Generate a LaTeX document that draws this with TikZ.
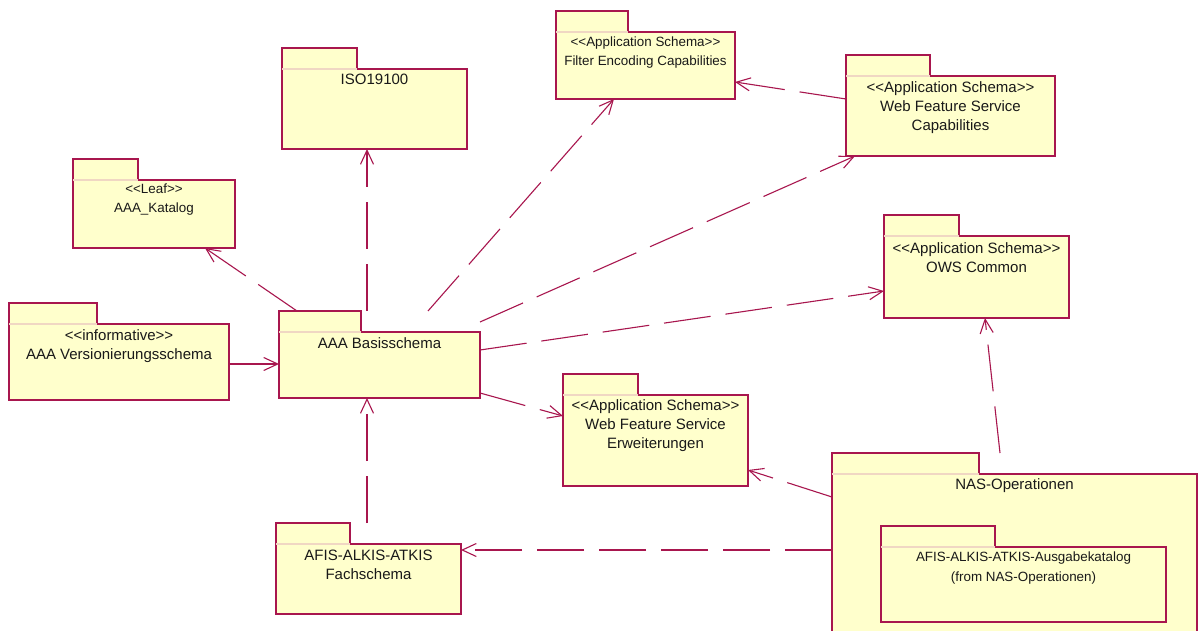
\documentclass[tikz,border=0pt]{standalone}
\usepackage{fontspec}
\setmainfont{Liberation Sans}
\usepackage{tikz}
\usetikzlibrary{calc,arrows.meta}

\definecolor{umlred}{RGB}{168,22,78}
\definecolor{umlfill}{RGB}{255,255,204}
\definecolor{umlseam}{RGB}{240,215,195}
\definecolor{umltext}{RGB}{25,25,25}

\tikzset{
  pkgbody/.style={draw=umlred, fill=umlfill, line width=1.2pt, inner sep=0pt, outer sep=0pt, anchor=north west},
  pkgtab/.style={draw=umlred, fill=umlfill, line width=1.2pt, inner sep=0pt, outer sep=0pt, anchor=south west, minimum height=21pt},
  seam/.style={draw=umlseam, line width=1.2pt},
  bigtext/.style={font=\fontsize{15}{19}\selectfont, align=center, text=umltext, anchor=north, inner sep=5pt},
  smalltext/.style={font=\fontsize{13.4}{18.5}\selectfont, align=center, text=umltext, anchor=north, inner sep=5pt},
  dep/.style={draw=umlred, line width=1.1pt, dash pattern=on 47pt off 15pt, -{Straight Barb[length=14pt,width=13pt]}}
}

\begin{document}
\begin{tikzpicture}[x=1pt,y=-1pt]
    \useasboundingbox (0,0) rectangle (1203,631);
    \fill[white] (0,0) rectangle (1203,631);

    % draw packages
    \node[pkgbody, minimum width=185pt, minimum height=80pt] (iso) at (282,69) {};
    \node[pkgtab, minimum width=75pt] (isotab) at (iso.north west) {};
    \draw[seam] (isotab.south west) -- (isotab.south east);
    \node[bigtext] (isotext) at (iso.north) {ISO19100};

    \node[pkgbody, minimum width=162pt, minimum height=68pt] (kat) at (73,180) {};
    \node[pkgtab, minimum width=65pt] (kattab) at (kat.north west) {};
    \draw[seam] (kattab.south west) -- (kattab.south east);
    \node[smalltext, inner sep=4pt] (kattext) at (kat.north) {<{}<Leaf>{}>\\AAA\_Katalog};

    \node[pkgbody, minimum width=220pt, minimum height=76pt] (ver) at (9,324) {};
    \node[pkgtab, minimum width=88pt] (vertab) at (ver.north west) {};
    \draw[seam] (vertab.south west) -- (vertab.south east);
    \node[bigtext] (vertext) at (ver.north) {<{}<informative>{}>\\AAA Versionierungsschema};

    \node[pkgbody, minimum width=201pt, minimum height=66pt] (bas) at (279,332) {};
    \node[pkgtab, minimum width=82pt] (bastab) at (bas.north west) {};
    \draw[seam] (bastab.south west) -- (bastab.south east);
    \node[bigtext] (bastext) at (bas.north) {AAA Basisschema};

    \node[pkgbody, minimum width=179pt, minimum height=67pt] (fec) at (556,32) {};
    \node[pkgtab, minimum width=72pt] (fectab) at (fec.north west) {};
    \draw[seam] (fectab.south west) -- (fectab.south east);
    \node[smalltext] (fectext) at (fec.north) {<{}<Application Schema>{}>\\Filter Encoding Capabilities};

    \node[pkgbody, minimum width=209pt, minimum height=80pt] (wfc) at (846,76) {};
    \node[pkgtab, minimum width=84pt] (wfctab) at (wfc.north west) {};
    \draw[seam] (wfctab.south west) -- (wfctab.south east);
    \node[bigtext] (wfctext) at (wfc.north) {<{}<Application Schema>{}>\\Web Feature Service\\Capabilities};

    \node[pkgbody, minimum width=185pt, minimum height=82pt] (ows) at (884,236) {};
    \node[pkgtab, minimum width=75pt] (owstab) at (ows.north west) {};
    \draw[seam] (owstab.south west) -- (owstab.south east);
    \node[bigtext, inner sep=6pt] (owstext) at (ows.north) {<{}<Application Schema>{}>\\OWS Common};

    \node[pkgbody, minimum width=185pt, minimum height=91pt] (wfe) at (563,395) {};
    \node[pkgtab, minimum width=75pt] (wfetab) at (wfe.north west) {};
    \draw[seam] (wfetab.south west) -- (wfetab.south east);
    \node[bigtext, inner sep=4pt] (wfetext) at (wfe.north) {<{}<Application Schema>{}>\\Web Feature Service\\Erweiterungen};

    \node[pkgbody, minimum width=185pt, minimum height=70pt] (fach) at (276,544) {};
    \node[pkgtab, minimum width=74pt] (fachtab) at (fach.north west) {};
    \draw[seam] (fachtab.south west) -- (fachtab.south east);
    \node[bigtext, inner sep=6pt] (fachtext) at (fach.north) {AFIS-ALKIS-ATKIS\\Fachschema};

    \node[pkgbody, minimum width=365pt, minimum height=180pt] (nas) at (832,474) {};
    \node[pkgtab, minimum width=147pt] (nastab) at (nas.north west) {};
    \draw[seam] (nastab.south west) -- (nastab.south east);
    \node[bigtext, inner sep=4pt] (nastext) at (nas.north) {NAS-Operationen};

    \node[pkgbody, minimum width=285pt, minimum height=75pt] (aus) at (881,547) {};
    \node[pkgtab, minimum width=114pt] (austab) at (aus.north west) {};
    \draw[seam] (austab.south west) -- (austab.south east);
    \node[smalltext, font=\fontsize{13.4}{20}\selectfont] (austext) at (aus.north) {AFIS-ALKIS-ATKIS-Ausgabekatalog\\(from NAS-Operationen)};

    % draw dependencies
    \draw[dep] ($(bastab.north west)+(18,0)$) -- ($(kat.south west)+(132,0)$);
    \draw[dep] ($(bastab.north west)+(88,0)$) -- ($(iso.south west)+(85,0)$);
    \draw[dep] ($(bastab.north west)+(149,0)$) -- ($(fec.south west)+(58,0)$);
    \draw[dep] ($(bas.north east)+(0,-10)$) -- ($(wfc.south west)+(9,0)$);
    \draw[dep] ($(bas.north east)+(0,18)$) -- ($(ows.north west)+(0,55)$);
    \draw[dep] ($(bas.south east)+(0,-5)$) -- ($(wfe.north west)+(0,21)$);
    \draw[dep] ($(ver.north east)+(0,40)$) -- ($(bas.north west)+(0,32)$);
    \draw[dep] ($(fachtab.north west)+(91,0)$) -- ($(bas.south west)+(88,0)$);
    \draw[dep] ($(wfc.north west)+(0,23)$) -- ($(fec.north east)+(0,50)$);
    \draw[dep] ($(nastab.north west)+(168,0)$) -- ($(ows.south west)+(101,0)$);
    \draw[dep] ($(nas.north west)+(0,23)$) -- ($(wfe.south east)+(0,-16)$);
    \draw[dep] ($(nas.north west)+(0,76)$) -- ($(fach.north east)+(0,6)$);

\end{tikzpicture}
\end{document}
